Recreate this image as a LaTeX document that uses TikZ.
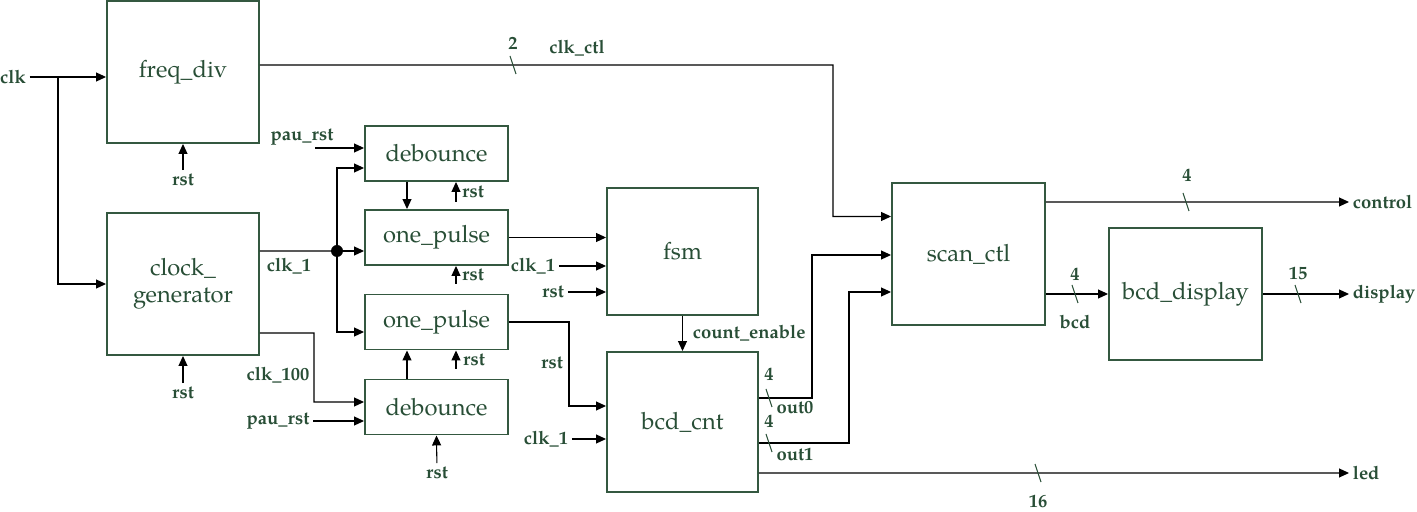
\documentclass[tikz,border=0pt]{standalone}
\usepackage{fontspec}
\setmainfont{TeX Gyre Pagella}
\usetikzlibrary{arrows.meta}
\definecolor{blockgreen}{RGB}{52,88,64}
\definecolor{labelgreen}{RGB}{40,78,54}

\begin{document}
\begin{tikzpicture}[
  x=0.2mm, y=-0.2mm,
  block/.style={draw=blockgreen, line width=1.1pt, minimum width=30.4mm,
                minimum height=28.4mm, align=center, text=labelgreen,
                font=\fontsize{13.5}{15.5}\selectfont, inner sep=0pt},
  small/.style={block, minimum width=28.6mm, minimum height=11mm},
  sig/.style={text=labelgreen, font=\fontsize{10.5}{12}\selectfont\bfseries, inner sep=2pt},
  arr/.style={-{Triangle[length=2mm,width=1.8mm]}, line width=0.6pt},
  wire/.style={line width=0.6pt},
  tick/.style={draw=labelgreen, line width=0.6pt}
]
  \useasboundingbox (0,0) rectangle (1417,512);

  \node[block] (freq) at (183,72) {freq\_div};
  \node[block] (clkgen) at (183,284) {clock\_\\generator};
  \node[small] (deb1) at (436.5,153.5) {debounce};
  \node[small] (op1) at (436.5,237.5) {one\_pulse};
  \node[small] (op2) at (436.5,322) {one\_pulse};
  \node[small] (deb2) at (436.5,407) {debounce};
  \node[block, minimum width=30.2mm, minimum height=25.4mm] (fsm) at (682.5,251.5) {fsm};
  \node[block, minimum width=30.2mm, minimum height=28mm] (cnt) at (682.5,422) {bcd\_cnt};
  \node[block, minimum width=30.6mm, minimum height=28.4mm] (scan) at (968.5,254) {scan\_ctl};
  \node[block, minimum width=30.6mm, minimum height=26.4mm] (disp) at (1185.5,294) {bcd\_display};

  \node[sig] (clk) at (13,77) {clk};
  \coordinate (clksplit) at (58,77);
  \node[sig] (rstfd) at (183,180) {rst};
  \node[sig] (rstcg) at (183,393) {rst};
  \node[sig] (pau1) at (302,137) {pau\_rst};
  \coordinate (pau1in) at (315,148);
  \node[sig] (clk1) at (289,266) {clk\_1};
  \coordinate (dot) at (337,251);
  \node[sig] (rstdb1) at (473,192) {rst};
  \coordinate (rstdb1in) at (456,202);
  \node[sig] (rstop1) at (473,275) {rst};
  \coordinate (rstop1in) at (456,284);
  \node[sig] (rstop2) at (474,360) {rst};
  \coordinate (rstop2in) at (456,369);
  \node[sig] (rstdb2) at (437,473) {rst};
  \node[sig] (clk100) at (278,375) {clk\_100};
  \coordinate (c100) at (314,333);
  \node[sig] (pau2) at (278,421) {pau\_rst};
  \node[sig] (clkfsm) at (533,266) {clk\_1};
  \node[sig] (rstfsm) at (553,292) {rst};
  \node[sig, anchor=west] (cen) at (689,333) {count\_enable};
  \node[sig] (rstcnt) at (552,363) {rst};
  \coordinate (op2bend) at (569,322);
  \node[sig] (clkcnt) at (546,439) {clk\_1};
  \coordinate (o0bend) at (812,255);
  \coordinate (o1bend) at (849,292);
  \node[sig] (w0) at (769,374) {4};
  \node[sig] (out0) at (795,408) {out0};
  \node[sig] (w1) at (769,421) {4};
  \node[sig] (out1) at (795,454) {out1};
  \node[sig, anchor=west] (led) at (1349,473) {led};
  \node[sig] (w16) at (1038,501) {16};
  \node[sig] (w2) at (513,43) {2};
  \node[sig] (clkctl) at (577,48) {clk\_ctl};
  \coordinate (ctlbend) at (833,65);
  \node[sig, anchor=west] (control) at (1349,202) {control};
  \node[sig] (w4c) at (1187,175) {4};
  \node[sig] (w4b) at (1075,274) {4};
  \node[sig] (bcd) at (1075,322) {bcd};
  \node[sig, anchor=west] (display) at (1349,294) {display};
  \node[sig] (w15) at (1298,273) {15};

  \draw[arr] (clk) -- (clk -| freq.west);
  \draw[arr] (clksplit) |- (clkgen.west);
  \draw[arr] (rstfd) -- (freq.south);
  \draw[arr] (rstcg) -- (clkgen.south);
  \draw[arr] ([yshift=1.4mm]freq.east) -- (ctlbend) |- ([yshift=7.5mm]scan.west);
  \draw[wire] ([yshift=6.6mm]clkgen.east) -- (dot);
  \fill (dot) circle (1.2mm);
  \draw[arr] (dot) -- (dot -| op1.west);
  \draw[arr] (dot) |- ([yshift=-2.9mm]deb1.west);
  \draw[arr] (dot) |- ([yshift=-2mm]op2.west);
  \draw[arr] (pau1in) -- (pau1in -| deb1.west);
  \draw[arr] ([xshift=-5.9mm]deb1.south) -- ([xshift=-5.9mm]op1.north);
  \draw[arr] (rstdb1in) -- (rstdb1in |- deb1.south);
  \draw[arr] (rstop1in) -- (rstop1in |- op1.south);
  \draw[arr] (rstop2in) -- (rstop2in |- op2.south);
  \draw[arr] ([xshift=-5.9mm]deb2.north) -- ([xshift=-5.9mm]op2.south);
  \draw[arr] (rstdb2) -- (deb2.south);
  \draw[arr] ([yshift=-9.8mm]clkgen.east) -- (c100) |- ([yshift=1mm]deb2.west);
  \draw[arr] (pau2) -- (pau2 -| deb2.west);
  \draw[arr] (op1.east) -- (op1.east -| fsm.west);
  \draw[arr] (clkfsm) -- (clkfsm -| fsm.west);
  \draw[arr] (rstfsm) -- (rstfsm -| fsm.west);
  \draw[arr] (fsm.south) -- (cnt.north);
  \draw[arr] (op2.east) -- (op2bend) |- ([yshift=3.2mm]cnt.west);
  \draw[arr] (clkcnt) -- (clkcnt -| cnt.west);
  \draw[arr] ([yshift=4.8mm]cnt.east) -| (o0bend) -- (o0bend -| scan.west);
  \draw[arr] ([yshift=-4.2mm]cnt.east) -| (o1bend) -- (o1bend -| scan.west);
  \draw[arr] ([yshift=-10.2mm]cnt.east) -- (led);
  \draw[arr] ([yshift=10.4mm]scan.east) -- (control);
  \draw[arr] ([yshift=-8mm]scan.east) -- ([yshift=-8mm]scan.east -| disp.west);
  \draw[arr] (disp.east) -- (display);

  \draw[tick] (510,56) -- ++(6,18);
  \draw[tick] (1183,193) -- ++(6,18);
  \draw[tick] (1072,285) -- ++(6,18);
  \draw[tick] (1295,285) -- ++(6,18);
  \draw[tick] (766,389) -- ++(6,18);
  \draw[tick] (766,434) -- ++(6,18);
  \draw[tick] (1035,464) -- ++(6,18);
\end{tikzpicture}
\end{document}
